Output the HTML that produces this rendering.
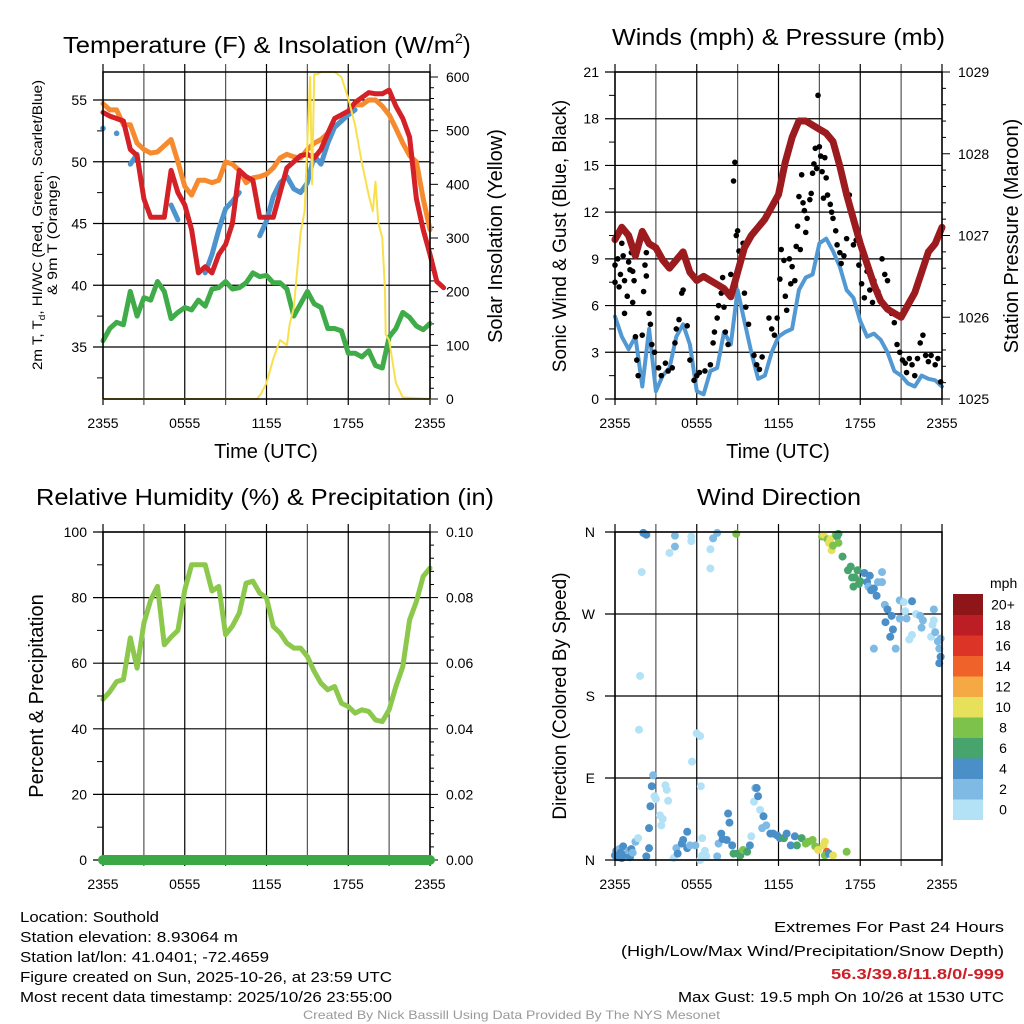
<!DOCTYPE html>
<html><head><meta charset="utf-8"><style>
html,body{margin:0;padding:0;background:#fff;}
svg{display:block;font-family:"Liberation Sans",Arial,sans-serif;}
</style></head><body>
<svg id="fig" xmlns="http://www.w3.org/2000/svg" width="1024" height="1024" viewBox="0 0 1024 1024">
<rect width="1024" height="1024" fill="#fff"/>
<g id="g1"></g>
<g id="g2"></g>
<g id="g3"></g>
<g id="g4"></g>
<text x="63" y="53" font-size="23" textLength="392" lengthAdjust="spacingAndGlyphs">Temperature (F) &amp; Insolation (W/m</text>
<text x="455" y="43" font-size="14">2</text>
<text x="463" y="53" font-size="23">)</text>
<text x="612" y="45" font-size="23" textLength="333" lengthAdjust="spacingAndGlyphs">Winds (mph) &amp; Pressure (mb)</text>
<text x="36" y="505" font-size="23" textLength="458" lengthAdjust="spacingAndGlyphs">Relative Humidity (%) &amp; Precipitation (in)</text>
<text x="697" y="505" font-size="23" textLength="164" lengthAdjust="spacingAndGlyphs">Wind Direction</text>
<text x="266" y="458" font-size="20" text-anchor="middle">Time (UTC)</text>
<text x="778" y="458" font-size="20" text-anchor="middle">Time (UTC)</text>
<text transform="translate(42,370) rotate(-90)" font-size="13.5" textLength="290" lengthAdjust="spacingAndGlyphs">2m T, T<tspan font-size="9" dy="3">d</tspan><tspan dy="-3">, HI/WC (Red, Green, Scarlet/Blue)</tspan></text>
<text transform="translate(57,295) rotate(-90)" font-size="13.5" textLength="120" lengthAdjust="spacingAndGlyphs">&amp; 9m T (Orange)</text>
<text transform="translate(502,236) rotate(-90)" font-size="20" text-anchor="middle">Solar Insolation (Yellow)</text>
<text transform="translate(566,236) rotate(-90)" font-size="19" text-anchor="middle">Sonic Wind &amp; Gust (Blue, Black)</text>
<text transform="translate(1018,236) rotate(-90)" font-size="20" text-anchor="middle">Station Pressure (Maroon)</text>
<text transform="translate(43,696) rotate(-90)" font-size="20" text-anchor="middle">Percent &amp; Precipitation</text>
<text transform="translate(566,696) rotate(-90)" font-size="19" text-anchor="middle">Direction (Colored By Speed)</text>
<g font-size="15">
<text x="20" y="922" textLength="139" lengthAdjust="spacingAndGlyphs">Location: Southold</text>
<text x="20" y="942" textLength="218" lengthAdjust="spacingAndGlyphs">Station elevation: 8.93064 m</text>
<text x="20" y="962" textLength="249" lengthAdjust="spacingAndGlyphs">Station lat/lon: 41.0401; -72.4659</text>
<text x="20" y="982" textLength="372" lengthAdjust="spacingAndGlyphs">Figure created on Sun, 2025-10-26, at 23:59 UTC</text>
<text x="20" y="1002" textLength="372" lengthAdjust="spacingAndGlyphs">Most recent data timestamp: 2025/10/26 23:55:00</text>
</g>
<g font-size="15">
<text x="774" y="932" textLength="230" lengthAdjust="spacingAndGlyphs">Extremes For Past 24 Hours</text>
<text x="621" y="956" textLength="383" lengthAdjust="spacingAndGlyphs">(High/Low/Max Wind/Precipitation/Snow Depth)</text>
<text x="831" y="979" font-weight="bold" fill="#cc1f27" textLength="173" lengthAdjust="spacingAndGlyphs">56.3/39.8/11.8/0/-999</text>
<text x="678" y="1002" textLength="326" lengthAdjust="spacingAndGlyphs">Max Gust: 19.5 mph On 10/26 at 1530 UTC</text>
</g>
<text x="303" y="1019" font-size="12" fill="#999" textLength="417" lengthAdjust="spacingAndGlyphs">Created By Nick Bassill Using Data Provided By The NYS Mesonet</text>
</svg>
<script>
const timeLabels = ["2355","0555","1155","1755","2355"];
const tempRed = [54,53.7,53.5,53.3,51,50.5,47,45.5,45.5,45.5,49.3,47.5,46.5,44.5,41,41.5,41,42.5,43.3,45,49.3,48.8,48.5,45.5,45.5,45.5,47.5,49.5,50,50.5,50.6,50.3,51,52.3,53.5,53.8,54.1,54.8,55.2,55.6,55.5,55.5,55.8,54.5,53.5,52,47,44.5,42.5,40.3,39.8];
const tempOrange = [54.7,54.2,54.2,53,53,51.5,51,50.7,50.8,51.3,51.8,50,48,47.3,48.5,48.5,48.3,48.5,50,49.8,49.3,48.3,48.7,48.8,49,49.5,50.3,50.6,50.4,50.3,51,51.5,51.8,52.3,52.8,53.3,54,54.6,54.6,55,55,54.5,53.8,52.7,51.5,50.5,50,47,44.5];
const tempBlue = [52.7,null,52.3,null,49.8,50.6,null,null,null,null,46.5,45.3,null,null,null,41,42.5,44.5,46.2,46.8,47.5,null,null,44,45.2,47.2,48.3,48.8,47.8,47.5,48.3,50.5,49.8,51.5,52.8,53.3,53.8,54.2,null,null,null,null,null,null,null,null,null,null,null];
const dewGreen = [35.5,36.5,37,36.8,39.5,37.5,39,38.8,40.3,39.5,37.3,37.8,38.2,38,38.8,38.3,39.7,39.8,40.3,39.7,39.8,40.2,41,40.7,40.8,40.2,40.2,39.7,37.5,38.5,39.5,38.5,38.2,36.5,36.5,36.3,34.5,34.5,34.2,34.7,33.5,33.3,35.8,36.5,37.8,37.4,36.7,36.4,36.9];
const solarHours = [0,11.3,11.6,12,12.5,13,13.5,13.7,14,14.5,14.8,15,15.2,15.35,15.5,15.7,16,16.5,17,17.5,18,18.5,19,19.5,19.8,20,20.2,20.5,20.7,20.75,21,21.5,22,24];
const solarVals = [0,0,10,30,75,110,100,140,170,310,350,480,600,400,605,605,610,612,612,600,560,510,440,380,350,405,330,300,200,120,110,30,3,0];
const windSpeed = [5.3,4,3.2,4,0.8,4.5,0.5,1.5,2,4,4.8,3.5,0.5,0.3,1.8,2,4.3,3.5,7,5,3,1.3,1.5,3,4,4.3,4.5,7,7.8,8,10,10.3,9.5,8.5,7,6.5,5,4,4.2,3.8,3,1.8,1.5,1,0.8,1.5,1.3,1.2,0.8];
const pressure = [1026.95,1027.1,1027.0,1026.75,1027.05,1026.9,1026.85,1026.7,1026.6,1026.7,1026.8,1026.55,1026.45,1026.5,1026.45,1026.4,1026.35,1026.25,1026.55,1026.85,1027.0,1027.1,1027.2,1027.35,1027.5,1027.9,1028.2,1028.4,1028.4,1028.35,1028.3,1028.25,1028.15,1027.85,1027.5,1027.2,1026.9,1026.65,1026.4,1026.2,1026.1,1026.05,1026.0,1026.15,1026.3,1026.55,1026.8,1026.9,1027.1];
const gustHours = [0,0,0.2,0.3,0.4,0.5,0.6,0.7,0.7,0.9,1.0,1.1,1.2,1.3,1.3,1.4,1.5,1.6,1.7,2.0,2.1,2.2,2.3,2.3,2.5,2.6,2.7,2.9,3.2,3.4,3.7,3.9,4.2,4.4,4.5,4.7,4.9,5.0,5.3,5.5,5.8,6.0,6.2,6.6,7.0,7.2,7.3,7.5,7.6,7.8,7.9,8.0,8.1,8.3,8.5,8.7,8.8,8.9,9.0,9.1,9.4,9.5,9.6,9.8,10.2,10.4,10.6,10.8,11.3,11.5,11.7,11.9,12.1,12.2,12.4,12.5,12.6,12.8,12.9,13.0,13.2,13.3,13.4,13.5,13.6,13.7,13.8,13.9,14.0,14.1,14.3,14.4,14.5,14.6,14.7,14.8,14.9,15.0,15.1,15.2,15.3,15.4,15.5,15.6,15.8,15.9,16.0,16.2,16.3,16.5,16.6,16.8,17.0,17.2,17.5,17.7,17.9,18.1,18.3,18.5,18.7,18.9,19.0,19.3,19.6,19.8,20.0,20.3,20.5,20.7,20.9,21.1,21.3,21.4,21.6,21.8,22.0,22.2,22.4,22.6,22.8,23.0,23.2,23.5,23.7,23.9];
const gustVals = [7.5,8.6,9,7.2,8,10,9.2,7.6,5.5,6.6,8.8,8.3,9.4,6.2,8.2,7.6,4,2.5,1.5,4.1,6.9,8.6,7.9,9.4,5.5,4.8,3.5,3,2,1.5,2.3,1.8,2,3.6,4.5,5.1,6.8,7,4.7,2.5,1.2,1.5,1.7,1.8,2.2,3.6,4.3,5.2,6,6.8,7.8,5.9,4.3,3.5,8,14,15.2,10.5,10.8,9.5,10,6.8,5.9,4.8,2.8,2.2,1.9,2.7,5.2,4.5,4.1,5.2,7.7,9.6,8.9,6.6,5.7,9,7.4,8.5,7.6,9.8,11.1,13,9.6,14.4,12.6,12.1,10.7,11.6,12.8,13.2,14.5,15.1,16.1,14.8,19.5,16.2,15.6,14.6,12.9,15.5,14.2,13.1,12.5,12,11.6,10.8,9.9,9.4,8.7,9.2,10.3,13.1,9.9,10.2,8.6,7.4,6.5,8.2,7,6.2,7.6,6.9,9,8,7.6,5.5,4.9,3.5,3,2.5,2.3,1.7,2.6,2.2,1.5,2.6,3.6,4.1,2.8,2.4,2.8,2.2,2.6,1.1];
const rhVals = [49,51.3,54.4,55,67.7,58.5,72.2,79.3,83.4,65.6,68,70,82.4,90,90,90,82,83.4,68.7,71.3,75.3,84.4,85,81.4,79.9,71.2,69.2,66.1,64.6,64.6,62,57.5,53.9,51.9,52.9,47.8,46.8,44.8,45.8,45.3,42.7,42.2,45.8,52.9,59,73.2,78.8,86.5,89];
const precipVals = [0,0,0,0,0,0,0,0,0,0,0,0,0,0,0,0,0,0,0,0,0,0,0,0,0,0,0,0,0,0,0,0,0,0,0,0,0,0,0,0,0,0,0,0,0,0,0,0,0];
const dirHours = [0.0,0.1,0.2,0.3,0.4,0.5,0.6,0.8,1.0,1.1,1.2,1.3,1.5,1.7,1.84,1.76,1.96,2.08,2.3,2.3,2.5,2.5,2.6,2.7,2.8,2.9,3.0,3.3,3.4,3.5,3.7,3.8,3.9,4.0,4.3,4.4,4.4,4.5,4.6,4.9,5.0,5.3,5.3,5.5,5.6,5.6,5.65,5.9,6.0,6.25,6.3,6.4,6.25,6.4,6.7,6.6,7.0,7.0,7.2,7.5,7.5,7.6,7.8,7.9,8.2,8.3,8.4,8.6,8.7,8.9,9.0,9.2,9.4,9.7,9.9,10.0,10.2,10.3,10.4,10.5,10.65,10.8,10.9,11.1,11.4,11.6,11.9,12.1,12.4,12.6,12.9,13.2,13.35,13.7,14.0,14.2,14.5,14.7,14.9,15.3,15.4,15.55,15.4,15.7,16.0,17.0,15.2,15.3,15.6,15.7,15.8,15.9,16.0,16.2,16.3,16.4,16.4,16.7,17.1,17.3,17.4,17.5,17.6,17.8,17.9,18.0,18.3,18.5,18.6,18.7,18.8,19.0,19.0,19.2,19.3,19.6,19.6,19.8,19.85,20.0,20.2,20.3,20.4,20.6,20.9,20.9,21.2,21.3,21.4,21.6,21.8,21.8,22.1,22.4,22.5,22.6,23.2,23.3,23.4,23.4,23.5,23.7,23.8,23.9,23.9,23.8];
const dirDegs = [5,10,3,12,8,2,15,6,10,3,12,8,20,24,202,143,316,359,357,4,13,35,59,81,93,70,67,49,38,45,82,77,65,337,2,344,356,13,7,18,22,13,31,16,350,355,108,16,139,136,81,24,0,5,4,10,341,320,353,359,4,18,29,23,22,51,41,16,7,358,7,5,11,9,16,26,64,79,79,70,55,35,48,38,29,29,27,24,24,29,16,26,16,24,18,20,22,15,11,16,20,9,5,7,5,9,355,357,352,348,352,340,345,357,355,358,348,333,318,322,310,300,310,318,303,306,315,305,300,312,296,298,232,290,305,316,305,280,261,275,245,268,253,232,285,265,283,273,265,242,284,247,270,268,255,263,245,258,263,275,250,240,232,243,223,216,230];
const dirSpeeds = [4,4,4,2,4,4,4,4,2,4,4,2,2,1,1,1,1,4,4,4,4,4,4,4,3,1,1,1,1,1,1,1,1,1,1,2,3,2,4,4,4,4,4,2,1,1,1,2,1,1,1,1,0,0,1,0,1,1,2,2,2,2,4,4,4,4,4,4,6,8,6,6,8,6,4,1,1,2,4,4,1,2,4,2,4,4,4,4,6,4,4,4,6,6,8,8,8,8,10,10,10,14,8,4,10,8,9,10,8,10,10,10,8,8,6,6,8,6,6,6,6,6,6,6,6,6,4,4,2,4,4,4,2,4,2,2,2,2,4,4,4,4,4,2,2,2,0,0,2,0,4,0,0,2,2,2,0,0,0,2,2,2,2,2,4,4];
const rightT = [0,100,200,300,400,500,600];
const leftT = [35,40,45,50,55];
const windTicks = [0,3,6,9,12,15,18,21];
const presTicks = [1025,1026,1027,1028,1029];
const rhTicks = [0,20,40,60,80,100];
const prTicks = ["0.00","0.02","0.04","0.06","0.08","0.10"];
const dirLabels = ["N","E","S","W","N"];
const cbLabels = ["0","2","4","6","8","10","12","14","16","18","20+"];
const cbColors = ["#b3e2f7","#7fbae4","#4a8fc7","#47a46d","#7cc24b","#e6e05b","#f5a944","#ef6229","#dd3428","#bd1d24","#8e1619"];

const NS="http://www.w3.org/2000/svg";
function mk(parent,tag,attrs){const e=document.createElementNS(NS,tag);for(const k in attrs)e.setAttribute(k,attrs[k]);parent.appendChild(e);return e;}
function panel(x0,x1,y0,y1){return {x0,x1,y0,y1,x:h=>x0+h/24*(x1-x0)};}
function lin(v0,v1,p0,p1){return v=>p0+(v-v0)/(v1-v0)*(p1-p0);}
function pathFrom(xs,ys){let d="",pen=false;for(let i=0;i<xs.length;i++){if(ys[i]==null){pen=false;continue;}d+=(pen?"L":"M")+xs[i].toFixed(1)+","+ys[i].toFixed(1);pen=true;}return d;}
const halfH = tempRed.map((_,i)=>i*0.5);

function frame(g,P){
  for(let k=0;k<=8;k++){const x=P.x(k*3);
    const l=mk(g,"line",{x1:x,x2:x,y1:P.y0-8,y2:P.y1+6,stroke:(k%2?"#555":"#000"),"stroke-width":1.2});
    
    }
  timeLabels.forEach((t,i)=>{const tx=mk(g,"text",{x:P.x(i*6),y:P.y1+29,"font-size":14,"text-anchor":"middle"});tx.textContent=t;
    
    });
}
function hgrid(g,P,y,name){const l=mk(g,"line",{x1:P.x0-10,x2:P.x1,y1:y,y2:y,stroke:"#000","stroke-width":1.2});
  
  }
function rtick(g,P,y,len){const l=mk(g,"line",{x1:P.x1,x2:P.x1+len,y1:y,y2:y,stroke:"#000","stroke-width":1});
  
  }
function ltick(g,P,y){const l=mk(g,"line",{x1:P.x0-6,x2:P.x0,y1:y,y2:y,stroke:"#000","stroke-width":1});
  
  }
function label(g,x,y,t,anchor,name,size){const tx=mk(g,"text",{x,y,"font-size":size||14,"text-anchor":anchor});tx.textContent=t;
  
  return tx;}
function border(g,P){const r=mk(g,"rect",{x:P.x0,y:P.y0,width:P.x1-P.x0,height:P.y1-P.y0,fill:"none",stroke:"#000","stroke-width":1.5});
  
  }
function line(g,P,xs,ys,color,w,name){const p=mk(g,"path",{d:pathFrom(xs,ys),fill:"none",stroke:color,"stroke-width":w,"stroke-linejoin":"round","stroke-linecap":"round"});
  
  return p;}

(function(){const g=document.getElementById("g1");const P=panel(103,430,72,399);
  const yL=lin(35,55,347,100), yR=lin(0,600,399,77);
  frame(g,P);
  leftT.forEach(v=>{hgrid(g,P,yL(v),'temp-gridline');label(g,P.x0-16,yL(v)+5,String(v),"end",'temp-tick-label');});
  for(let v=32.5;v<57;v+=5)ltick(g,P,yL(v));
  for(let v=0;v<=610;v+=20)rtick(g,P,yR(v),v%100===0?8:4);
  rightT.forEach(v=>label(g,P.x1+16,yR(v)+5,String(v),"start",'solar-tick-label'));
  const xs=halfH.map(P.x);
  line(g,P,xs,tempOrange.map(yL),"#f68a2e",5,'orange-9m-temp-line');
  line(g,P,xs,tempBlue.map(v=>v==null?null:yL(v)),"#4d94cf",5,'blue-heat-index-line');
  tempBlue.forEach((v,i)=>{if(v!=null&&(tempBlue[i-1]==null)&&(tempBlue[i+1]==null)){const c=mk(g,"circle",{cx:xs[i],cy:yL(v),r:2.8,fill:"#4d94cf"});
    
    }});
  line(g,P,xs,tempRed.map(yL),"#d42027",5,'red-2m-temp-line');
  line(g,P,xs,dewGreen.map(yL),"#3fac49",5,'green-dewpoint-line');
  line(g,P,solarHours.map(P.x),solarVals.map(v=>Math.max(yR(v),72)),"#f9e04b",2,'yellow-solar-line');
  border(g,P);
})();

(function(){const g=document.getElementById("g2");const P=panel(615,942,72,399);
  const yL=lin(0,21,399,72), yR=lin(1025,1029,399,72);
  frame(g,P);
  windTicks.forEach(v=>{hgrid(g,P,yL(v),'wind-gridline');label(g,P.x0-16,yL(v)+5,String(v),"end",'wind-tick-label');});
  for(let v=1.5;v<21;v+=3)ltick(g,P,yL(v));
  for(let v=1025;v<=1029.001;v+=0.2)rtick(g,P,yR(v),Math.abs(v-Math.round(v))<0.01?8:4);
  presTicks.forEach(v=>label(g,P.x1+16,yR(v)+5,String(v),"start",'pressure-tick-label'));
  const xs=halfH.map(P.x);
  line(g,P,xs,windSpeed.map(yL),"#5299d3",4,'sonic-wind-line');
  gustHours.forEach((h,i)=>{const c=mk(g,"circle",{cx:P.x(h),cy:yL(gustVals[i]),r:2.8,fill:"#000"});
    
    });
  line(g,P,xs,pressure.map(yR),"#9b1b1e",7,'pressure-line');
  border(g,P);
})();

(function(){const g=document.getElementById("g3");const P=panel(103,430,532,860);
  const yL=lin(0,100,860,532), yR=lin(0,0.1,860,532);
  frame(g,P);
  rhTicks.forEach(v=>{hgrid(g,P,yL(v),'humidity-gridline');label(g,P.x0-16,yL(v)+5,String(v),"end",'humidity-tick-label');});
  for(let v=10;v<100;v+=20)ltick(g,P,yL(v));
  for(let v=0;v<=0.1001;v+=0.004)rtick(g,P,yR(v),Math.abs(v*50-Math.round(v*50))<0.01?8:4);
  prTicks.forEach(v=>label(g,P.x1+16,yR(+v)+5,v,"start",'precip-tick-label'));
  const xs=halfH.map(P.x);
  line(g,P,xs,rhVals.map(yL),"#8cc84b",5,'humidity-line');
  border(g,P);
  line(g,P,xs,precipVals.map(yR),"#3aa845",10,'precipitation-line');
})();

(function(){const g=document.getElementById("g4");const P=panel(615,942,532,860);
  const yD=lin(0,360,860,532);
  frame(g,P);
  dirLabels.forEach((t,i)=>{hgrid(g,P,yD(i*90),'direction-gridline');label(g,P.x0-20,yD(i*90)+5,t,"end",'direction-tick-label');});
  dirHours.forEach((h,i)=>{const s=dirSpeeds[i];const c=mk(g,"circle",{cx:P.x(h),cy:yD(dirDegs[i]),r:4,fill:cbColors[Math.min(10,Math.floor(s/2))]});
    
    });
  border(g,P);
  const cb0=594, ch=20.5;
  label(g,990,588,"mph","start",'colorbar-title',14);
  cbColors.forEach((col,i)=>{const y=cb0+(10-i)*ch;const r=mk(g,"rect",{x:953,y:y,width:30,height:ch+0.5,fill:col});
    
    
    label(g,1003,y+ch/2+5,cbLabels[i],"middle",'colorbar-label',14);});
})();
</script>
</body></html>
